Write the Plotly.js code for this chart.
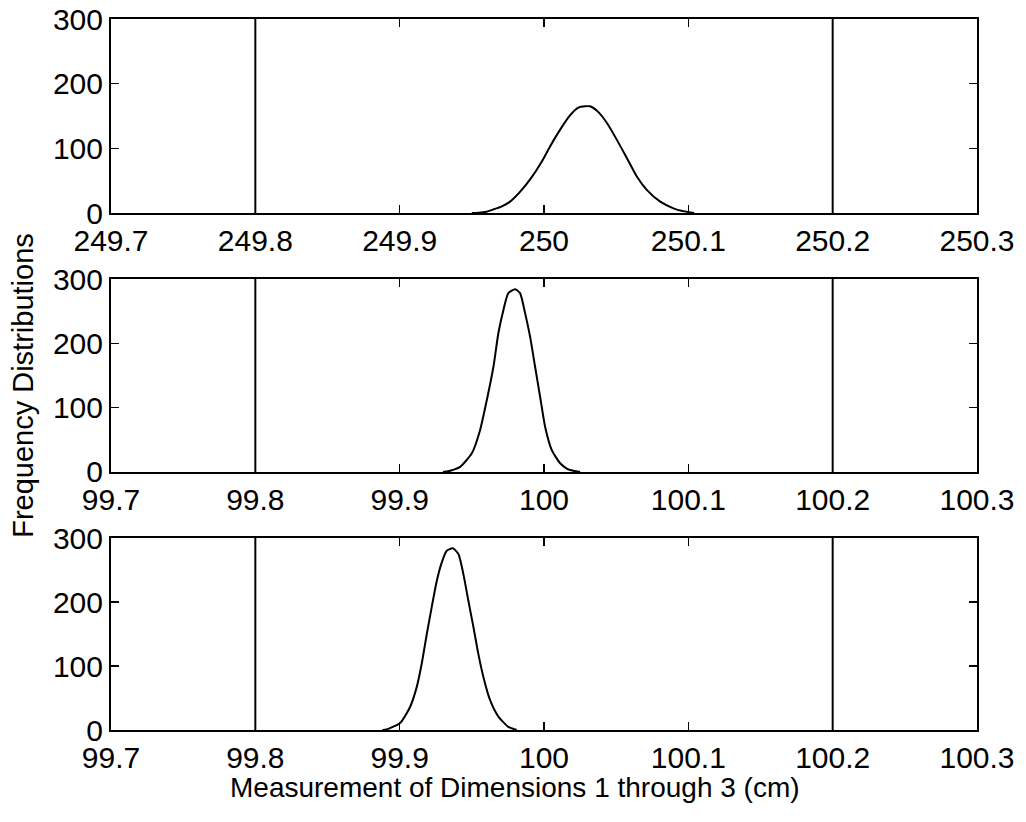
<!DOCTYPE html>
<html>
<head>
<meta charset="utf-8">
<script src="https://cdn.plot.ly/plotly-3.0.1.min.js"></script>
<style>html,body{margin:0;padding:0;background:#fff;}#chart{width:1026px;height:822px;}</style>
</head>
<body>
<div id="chart"></div>
<script>
// Dimension 1 distribution
const dim1X = [249.950, 249.955, 249.960, 249.965, 249.9705, 249.9765, 249.9846, 249.9915, 249.9985, 250.0042, 250.0112, 250.018, 250.0238, 250.0285, 250.0319, 250.0377, 250.0435, 250.0504, 250.0574, 250.0643, 250.0712, 250.0805, 250.0897, 250.0960, 250.1013, 250.104];
const dim1Y = [0, 0.5, 2, 5.7, 10, 17.6, 35.8, 55.5, 79.8, 103, 129, 151, 163, 165, 165, 156, 139.5, 113.5, 85, 56.5, 35.8, 17.6, 7.3, 3, 1, 0];
// Dimension 2 distribution
const dim2X = [99.9300, 99.9335, 99.9380, 99.9419, 99.9500, 99.9557, 99.9604, 99.9650, 99.9684, 99.9719, 99.9753, 99.9800, 99.9834, 99.9869, 99.9904, 99.9938, 99.9973, 100.0008, 100.0054, 100.0112, 100.0160, 100.0203, 100.0250];
const dim2Y = [0, 1, 4, 8, 29, 65, 112, 164, 216, 252, 278, 284, 278, 247, 210, 164, 117, 70, 34, 13.5, 5, 2, 0];
// Dimension 3 distribution
const dim3X = [99.8880, 99.8910, 99.9003, 99.9072, 99.9118, 99.9153, 99.9188, 99.9222, 99.9257, 99.9292, 99.9326, 99.9368, 99.9407, 99.9441, 99.9476, 99.9511, 99.9545, 99.9580, 99.9626, 99.9684, 99.9753, 99.9811];
const dim3Y = [0, 1, 11, 36, 67, 104, 150, 192, 233, 262, 280, 284, 275, 244, 202, 161, 119, 83, 47, 21, 5, 0];
// Specification limits
const limits1 = [249.8, 250.2];
const limits23 = [99.8, 100.2];
const xRange1 = [249.7, 250.3];
const xRange23 = [99.7, 100.3];
const yRange = [0, 300];
const xTitle = 'Measurement of Dimensions 1 through 3 (cm)';
const yTitle = 'Frequency Distributions';

const font = 'Arial, "Liberation Sans", sans-serif';
const lineStyle = {color: '#000', width: 2};
const curveStyle = {color: '#000', width: 2, shape: 'spline', smoothing: 0.6};

function limitTrace(xv, xa, ya) {
  return {x: [xv, xv], y: yRange, xaxis: xa, yaxis: ya, mode: 'lines', line: lineStyle, hoverinfo: 'skip', showlegend: false};
}
const traces = [
  {x: dim1X, y: dim1Y, xaxis: 'x', yaxis: 'y', mode: 'lines', line: curveStyle, showlegend: false},
  limitTrace(limits1[0], 'x', 'y'), limitTrace(limits1[1], 'x', 'y'),
  {x: dim2X, y: dim2Y, xaxis: 'x2', yaxis: 'y2', mode: 'lines', line: curveStyle, showlegend: false},
  limitTrace(limits23[0], 'x2', 'y2'), limitTrace(limits23[1], 'x2', 'y2'),
  {x: dim3X, y: dim3Y, xaxis: 'x3', yaxis: 'y3', mode: 'lines', line: curveStyle, showlegend: false},
  limitTrace(limits23[0], 'x3', 'y3'), limitTrace(limits23[1], 'x3', 'y3')
];

function xax(range, anchor) {
  return {range: range, dtick: 0.1, tick0: range[0], anchor: anchor, showgrid: false, zeroline: false,
    showline: true, linecolor: '#000', linewidth: 2, mirror: 'ticks', ticks: 'inside', ticklen: 8,
    tickwidth: 1.5, tickcolor: '#000', tickfont: {family: font, size: 30, color: '#000'}, fixedrange: true};
}
function yax(domain, anchor) {
  return {range: yRange, dtick: 100, domain: domain, anchor: anchor, showgrid: false, zeroline: false,
    showline: true, linecolor: '#000', linewidth: 2, mirror: 'ticks', ticks: 'inside', ticklen: 8,
    tickwidth: 1.5, tickcolor: '#000', tickfont: {family: font, size: 30, color: '#000'}, fixedrange: true};
}

const layout = {
  width: 1026, height: 822,
  margin: {l: 111, r: 49, t: 19, b: 92},
  paper_bgcolor: '#fff', plot_bgcolor: '#fff',
  font: {family: font, color: '#000'},
  xaxis: xax(xRange1, 'y'),
  yaxis: yax([0.7271, 1], 'x'),
  xaxis2: xax(xRange23, 'y2'),
  yaxis2: yax([0.3629, 0.6343], 'x2'),
  xaxis3: xax(xRange23, 'y3'),
  yaxis3: yax([0, 0.270], 'x3'),
  annotations: [
    {text: xTitle, xref: 'paper', yref: 'paper', x: 0.4665, y: -0.056, xanchor: 'center', yanchor: 'top',
     showarrow: false, font: {family: font, size: 28, color: '#000'}},
    {text: yTitle, xref: 'paper', yref: 'paper', x: -0.102, y: 0.485, xanchor: 'center', yanchor: 'middle',
     textangle: -90, showarrow: false, font: {family: font, size: 29, color: '#000'}}
  ]
};

Plotly.newPlot('chart', traces, layout, {displayModeBar: false, staticPlot: true});
</script>
</body>
</html>
